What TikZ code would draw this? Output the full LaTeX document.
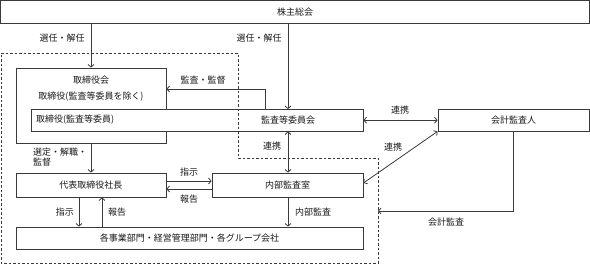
\documentclass[tikz,border=0pt]{standalone}
\usepackage{fontspec}
\newfontfamily\jp{Noto Sans CJK JP}
\usetikzlibrary{arrows.meta}
\definecolor{ln}{HTML}{3A3A3A}
\definecolor{tx}{HTML}{1A1A1A}
\tikzset{
  box/.style={draw=ln,line width=0.9pt,rectangle,inner sep=0pt,fill=white,text=tx,font=\jp\fontsize{9}{11}\selectfont},
  lbl/.style={inner sep=0pt,text=tx,font=\jp\fontsize{9}{11}\selectfont},
  arr/.style={draw=ln,line width=0.8pt,-{Straight Barb[length=2.5pt,width=6pt]}},
  darr/.style={draw=ln,line width=0.8pt,{Straight Barb[length=2.5pt,width=6pt]}-{Straight Barb[length=2.5pt,width=6pt]}},
  dsh/.style={draw=ln,line width=0.9pt,dash pattern=on 2.5pt off 2pt}
}
\begin{document}
\begin{tikzpicture}[x=1pt,y=-1pt]
\useasboundingbox (0,0) rectangle (590,265);
% boxes
\node[box,minimum width=589pt,minimum height=22.5pt] (sh) at (295,12) {株主総会};
\node[box,minimum width=150pt,minimum height=75pt] (board) at (91,105.5) {};
\node[lbl] (boardt) at (91,80) {取締役会};
\node[lbl] (boardx) at (91,97) {取締役(監査等委員を除く)};
\node[box,minimum width=332pt,minimum height=21.5pt] (inner) at (197,120.25) {};
\node[lbl,anchor=west] (innert) at (36,120) {取締役(監査等委員)};
\node[lbl] (ac) at (288,120) {監査等委員会};
\node[box,minimum width=151pt,minimum height=22pt] (aud) at (513.5,120) {会計監査人};
\node[box,minimum width=150pt,minimum height=24pt] (pres) at (91,185) {代表取締役社長};
\node[box,minimum width=151pt,minimum height=24pt] (ia) at (287.5,185) {内部監査室};
\node[box,minimum width=347pt,minimum height=22pt] (div) at (189.5,238) {各事業部門・経営管理部門・各グループ会社};
% dashed region
\draw[dsh] (1,53) -- (238,53) -- (238,158) -- (378,158) -- (378,263) -- (1,263) -- cycle;
% coordinates
\coordinate (kx) at (265,89);
\coordinate (dr) at (378,211);
% connectors
\draw[arr] (sh.south -| board.north) -- (board.north);
\draw[arr] (sh.south -| ac) -- (ac |- inner.north);
\draw[arr] (kx |- inner.north) -- (kx) -- (kx -| board.east);
\draw[darr] (inner.east) -- (inner.east -| aud.west);
\draw[darr] (ac |- inner.south) -- (ac |- ia.north);
\draw[arr] (board.south) -- (pres.north);
\draw[arr] ([yshift=4pt]pres.east) -- ([yshift=4pt]pres.east -| ia.west);
\draw[arr] ([yshift=-4pt]ia.west) -- ([yshift=-4pt]ia.west -| pres.east);
\draw[darr] (aud.south west) -- ([yshift=2pt]ia.east);
\draw[arr] (aud.south) -- (aud.south |- dr) -- (dr);
\draw[arr] ([xshift=-12pt]pres.south) -- ([xshift=-12pt]pres.south |- div.north);
\draw[arr] ([xshift=11pt]pres.south |- div.north) -- ([xshift=11pt]pres.south);
\draw[arr] (ia.south -| ac) -- (ac |- div.north);
% labels
\node[lbl] (l1) at (62,38) {選任・解任};
\node[lbl] (l2) at (259,38) {選任・解任};
\node[lbl] (l3) at (203,80) {監査・監督};
\node[lbl] (l4) at (400,110) {連携};
\node[lbl] (l5) at (272,146) {連携};
\node[lbl] (l6) at (393,147) {連携};
\node[lbl,anchor=north west,align=left,font=\jp\fontsize{9}{10}\selectfont] (l7) at (33,148) {選定・解職・\\監督};
\node[lbl] (l8) at (189,172) {指示};
\node[lbl] (l9) at (189,199) {報告};
\node[lbl] (l10) at (65,212) {指示};
\node[lbl] (l11) at (117,212) {報告};
\node[lbl] (l12) at (313,212) {内部監査};
\node[lbl] (l13) at (446,222) {会計監査};
\end{tikzpicture}
\end{document}
